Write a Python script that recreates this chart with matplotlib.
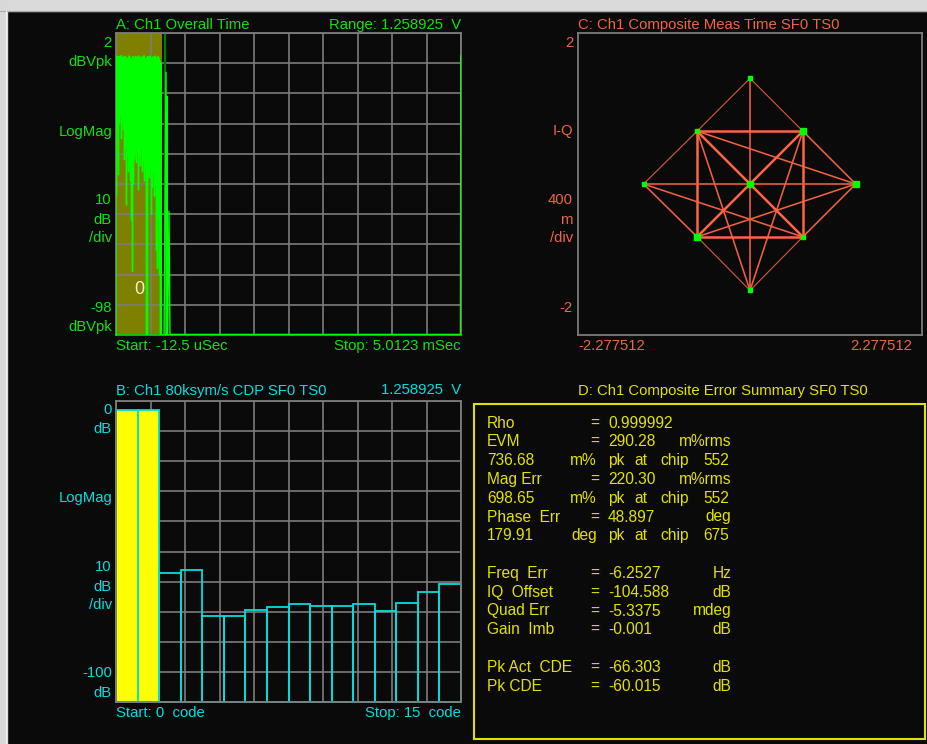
import numpy as np
import matplotlib
matplotlib.use("Agg")
import matplotlib.pyplot as plt
from matplotlib.patches import Rectangle
from matplotlib.lines import Line2D

plt.rcParams['font.family'] = ['Liberation Sans', 'DejaVu Sans']

# ---------------- data ----------------
# Panel A: overall time trace (dBVpk vs time in microseconds)
time_start_us = -12.5
time_stop_us = 5012.3
burst_gate_end_us = 657.0
burst_dt_us = 7.28
burst_high_db = [-6.0, -5.6, -7.2, -5.8, -6.4, -5.5, -7.8, -6.1, -5.7, -6.9, -5.9, -6.3, -7.5, -5.6,
                 -6.0, -7.9, -6.6, -5.8, -6.2, -7.0, -5.7, -6.5, -6.0, -5.6, -7.3, -6.1, -5.9, -6.8,
                 -5.5, -6.3, -7.6, -6.0, -5.8, -6.6, -5.7, -6.2, -7.1, -5.9, -6.4, -5.6, -6.0, -6.9,
                 -5.8, -6.3, -7.4, -8.0]
burst_low_db = [-52, -30, -45, -28, -25, -33, -27, -30, -40, -36, -55, -38, -44, -42, -47, -60,
                -77, -48, -40, -38, -41, -37, -50, -39, -42, -36, -44, -40, -47, -42, -100, -100,
                -45, -46, -43, -58, -49, -44, -52, -48, -70, -76, -60, -78, -100, -100]
tail_time_us = [686.6, 715.8, 723.0, 730.3, 737.6, 759.4, 774.0, 788.6, 5004.0, 5009.0, 5009.0]
tail_db = [-100, -11, -100, -19, -100, -57, -100, -97.8, -97.8, -5.5, -50]
marker_line_us = 701.0

# Panel C: constellation (I, Q) points and trajectories
pts = {
    'C': (0.0, 0.0), 'T': (0.0, 1.40), 'B': (0.0, -1.41), 'L': (-1.41, 0.0), 'R': (1.40, 0.0),
    'UL': (-0.70, 0.70), 'UR': (0.70, 0.70), 'LL': (-0.70, -0.70), 'LR': (0.70, -0.70),
}
thin_paths = [('T', 'UL'), ('T', 'UR'), ('UL', 'L'), ('LL', 'B'), ('LR', 'B')]
medium_paths = [('T', 'B'), ('L', 'R'), ('UL', 'R'), ('L', 'LR'), ('LL', 'R'), ('UL', 'B'),
                ('UR', 'B'), ('L', 'LL'), ('R', 'LR'), ('UR', 'R')]
thick_paths = [('UL', 'UR'), ('UL', 'LL'), ('UR', 'LR'), ('LL', 'LR'), ('UL', 'LR'), ('LL', 'UR')]
big_points = ['C', 'UR', 'LL', 'R']
iq_range = 2.277512

# Panel B: code domain power (dB) per code
codes = list(range(16))
cdp_db = [-3.0, -3.0, -57.1, -56.2, -71.4, -71.4, -69.5, -68.5, -67.5, -68.0, -68.0, -67.5,
          -69.9, -67.0, -63.3, -60.8]
active_codes = [0, 1]

# Panel D: error summary rows
summary_rows = [
    ('Rho', '0.999992', ''),
    ('EVM', '290.28', 'm%rms'),
    ('#pk', '736.68', 'm%', '552'),
    ('Mag Err', '220.30', 'm%rms'),
    ('#pk', '698.65', 'm%', '552'),
    ('Phase  Err', '48.897', 'deg'),
    ('#pk', '179.91', 'deg', '675'),
    None,
    ('Freq  Err', '-6.2527', 'Hz'),
    ('IQ  Offset', '-104.588', 'dB'),
    ('Quad Err', '-5.3375', 'mdeg'),
    ('Gain  Imb', '-0.001', 'dB'),
    None,
    ('Pk Act  CDE', '-66.303', 'dB'),
    ('Pk CDE', '-60.015', 'dB'),
]

# ---------------- style ----------------
W, H = 927, 744
BG = '#0a0a0a'
GRID = '#7c7c7c'
GREEN_T = '#10e010'
CYAN = '#00dede'
ORANGE = '#f06444'
YELLOW = '#e2e200'
FS = 10.7

fig = plt.figure(figsize=(W / 100, H / 100), dpi=100, facecolor=BG)


def fx(x):
    return x / W


def fy(y):
    return 1 - y / H


def txt(x, y, s, color, ha='left', size=FS, **kw):
    fig.text(fx(x), fy(y), s, color=color, ha=ha, va='center', fontsize=size, **kw)


def make_axes(x0, y0, x1, y1):
    ax = fig.add_axes([fx(x0), fy(y1), (x1 - x0) / W, (y1 - y0) / H])
    ax.set_facecolor(BG)
    for sp in ax.spines.values():
        sp.set_color(GRID)
        sp.set_linewidth(1.3)
    ax.tick_params(length=0, labelbottom=False, labelleft=False)
    return ax


# window frame
fig.add_artist(Rectangle((0, fy(11)), 1, 11 / H, transform=fig.transFigure, color='#dadada', zorder=0))
fig.add_artist(Line2D([0, 1], [fy(10.5), fy(10.5)], transform=fig.transFigure, color='#a8a8a8', lw=0.8))
fig.add_artist(Rectangle((0, 0), 7 / W, 1, transform=fig.transFigure, color='#d8d8d8', zorder=0))
fig.add_artist(Line2D([fx(5.5), fx(5.5)], [0, fy(11)], transform=fig.transFigure, color='#f4f4f4', lw=0.8))

# ---------------- Panel A ----------------
axA = make_axes(116, 33, 461, 335)
axA.set_xlim(time_start_us, time_stop_us)
axA.set_ylim(-98, 2)
axA.set_xticks(np.linspace(time_start_us, time_stop_us, 11))
axA.set_yticks(np.linspace(-98, 2, 11))
axA.grid(True, color=GRID, lw=1.2)
axA.set_axisbelow(True)
axA.axvspan(time_start_us, burst_gate_end_us, color='#808000', zorder=0.2, lw=0)
burst_db = np.column_stack([burst_high_db, burst_low_db]).ravel()
burst_t = time_start_us + np.arange(len(burst_db)) * burst_dt_us
t_all = np.concatenate([[time_start_us], burst_t, tail_time_us])
db_all = np.concatenate([[-100], burst_db, tail_db])
axA.axvline(marker_line_us, color='#007a00', lw=1.6, zorder=1.5)
axA.plot(t_all, db_all, color='#00ff00', lw=1.0, zorder=3)
axA.spines['bottom'].set_color('#00d000')

txt(116, 25, 'A: Ch1 Overall Time', GREEN_T)
txt(461, 25, 'Range: 1.258925  V', GREEN_T, ha='right')
for y, s in [(43, '2'), (62, 'dBVpk'), (132, 'LogMag'), (200, '10'), (219.5, 'dB'),
             (238, '/div'), (307.5, '-98'), (326.5, 'dBVpk')]:
    txt(112, y, s, GREEN_T, ha='right')
txt(116, 346, 'Start: -12.5 uSec', GREEN_T)
txt(461, 346, 'Stop: 5.0123 mSec', GREEN_T, ha='right')
txt(139.5, 290, '0', '#f0f0c8', ha='center', size=13)

# ---------------- Panel C ----------------
axC = make_axes(578, 33, 922, 335)
axC.set_xlim(-iq_range, iq_range)
axC.set_ylim(-2, 2)
axC.set_xticks([])
axC.set_yticks([])
for paths, lw, col in [(thin_paths, 0.8, '#d85c3c'), (medium_paths, 1.15, '#f06040'),
                       (thick_paths, 1.8, '#ff6444')]:
    for a, b in paths:
        axC.plot([pts[a][0], pts[b][0]], [pts[a][1], pts[b][1]], color=col, lw=lw,
                 solid_capstyle='butt', zorder=2)
for k, (i, q) in pts.items():
    axC.plot(i, q, marker='s', ms=4.0 if k in big_points else 3.0, color='#00ff00',
             mec='#00ff00', zorder=3, ls='none')

txt(578, 25, 'C: Ch1 Composite Meas Time SF0 TS0', ORANGE)
for y, s in [(43, '2'), (131, 'I-Q'), (200.5, '400'), (220, 'm'), (238.5, '/div'), (308, '-2')]:
    txt(573, y, s, ORANGE, ha='right')
txt(578, 346.5, '-2.277512', ORANGE)
txt(912.5, 346.5, '2.277512', ORANGE, ha='right')

# ---------------- Panel B ----------------
axB = make_axes(116, 401, 461, 702)
axB.set_xlim(0, 16)
axB.set_ylim(-100, 0)
axB.set_xticks(np.linspace(0, 16, 11))
axB.set_yticks(np.linspace(-100, 0, 11))
axB.grid(True, color=GRID, lw=1.2)
axB.set_axisbelow(True)
for c, v in zip(codes, cdp_db):
    active = c in active_codes
    axB.bar(c, v + 100, bottom=-100, width=1, align='edge',
            facecolor='#ffff00' if active else 'none', edgecolor=CYAN, lw=1.3, zorder=2,
            clip_on=False)

txt(116, 390.5, 'B: Ch1 80ksym/s CDP SF0 TS0', CYAN)
txt(461, 390.5, '1.258925  V', CYAN, ha='right')
for y, s in [(410, '0'), (429.3, 'dB'), (498.3, 'LogMag'), (567.3, '10'), (586.7, 'dB'),
             (605, '/div'), (673.3, '-100'), (692.7, 'dB')]:
    txt(112, y, s, CYAN, ha='right')
txt(116, 713.3, 'Start: 0  code', CYAN)
txt(461, 713.3, 'Stop: 15  code', CYAN, ha='right')

# ---------------- Panel D ----------------
fig.add_artist(Rectangle((fx(474), fy(739)), (925 - 474) / W, (739 - 404.3) / H,
                         transform=fig.transFigure, fill=False, edgecolor=YELLOW, lw=1.5))
txt(723, 390.7, 'D: Ch1 Composite Error Summary SF0 TS0', YELLOW, ha='center')
BFS = 11.2
for i, row in enumerate(summary_rows):
    if row is None:
        continue
    y = 423 + 18.8 * i
    if row[0] == '#pk':
        _, val, unit, chip = row
        txt(487, y, val, YELLOW, size=BFS)
        txt(597, y, unit, YELLOW, ha='right', size=BFS)
        txt(608, y, 'pk', YELLOW, size=BFS)
        txt(634, y, 'at', YELLOW, size=BFS)
        txt(660, y, 'chip', YELLOW, size=BFS)
        txt(729.5, y, chip, YELLOW, ha='right', size=BFS)
    else:
        label, val, unit = row
        txt(487, y, label, YELLOW, size=BFS)
        txt(595, y, '=', YELLOW, ha='center', size=BFS)
        txt(608, y, val, YELLOW, size=BFS)
        if unit:
            txt(731.5, y, unit, YELLOW, ha='right', size=BFS)

fig.savefig('out.png', dpi=100, facecolor=BG)
